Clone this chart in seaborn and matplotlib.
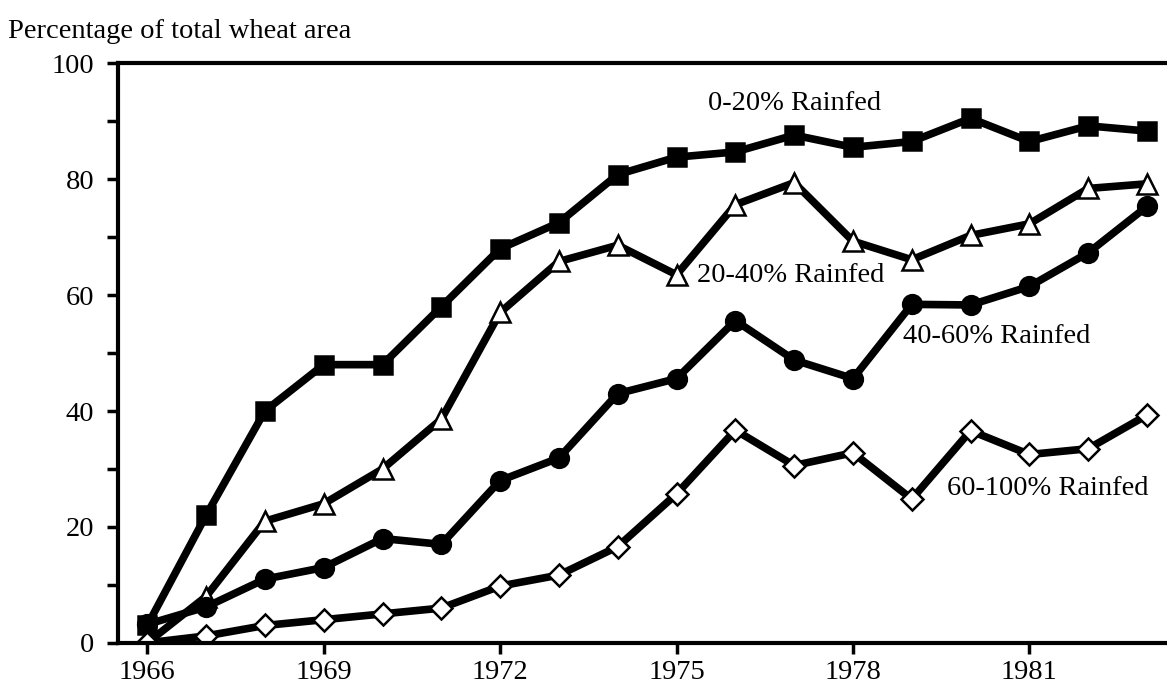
import matplotlib
matplotlib.use("Agg")
import matplotlib.pyplot as plt
from matplotlib.ticker import MultipleLocator
import seaborn as sns
import pandas as pd

years = list(range(1966, 1984))
rain_0_20 = [3, 22, 40, 48, 48, 58, 68, 72.5, 80.8, 83.8, 84.7, 87.6, 85.5, 86.5, 90.5, 86.5, 89.2, 88.3]
rain_20_40 = [0, 8, 21, 24, 30, 38.6, 57, 65.8, 68.6, 63.5, 75.6, 79.4, 69.3, 66.1, 70.3, 72.3, 78.4, 79.2]
rain_40_60 = [3.2, 6.2, 11, 13, 18, 17, 28, 31.9, 43, 45.6, 55.6, 48.8, 45.6, 58.4, 58.3, 61.5, 67.3, 75.3]
rain_60_100 = [0, 1.2, 3, 4, 5, 6, 9.8, 11.7, 16.6, 25.7, 36.7, 30.6, 32.8, 24.8, 36.6, 32.5, 33.5, 39.3]

series_names = ["0-20% Rainfed", "20-40% Rainfed", "40-60% Rainfed", "60-100% Rainfed"]
series_values = [rain_0_20, rain_20_40, rain_40_60, rain_60_100]

df = pd.concat([pd.DataFrame({"year": years, "pct": v, "group": n})
                for n, v in zip(series_names, series_values)])

sns.set_style("ticks")
plt.rcParams["font.family"] = ["Liberation Serif", "DejaVu Serif"]
plt.rcParams["text.color"] = "black"
plt.rcParams["xtick.color"] = "black"
plt.rcParams["ytick.color"] = "black"
plt.rcParams["axes.edgecolor"] = "black"

fig = plt.figure(figsize=(11.67, 6.95), dpi=100)
ax = fig.add_axes([0.101, 0.075, 0.897, 0.834])

# marker, face colour, size for each group
styles = {
    "0-20% Rainfed": ("s", "black", 13.5),
    "20-40% Rainfed": ("^", "white", 15),
    "40-60% Rainfed": ("o", "black", 13.5),
    "60-100% Rainfed": ("D", "white", 11.5),
}
for name in series_names:
    m, fc, ms = styles[name]
    sns.lineplot(data=df[df["group"] == name], x="year", y="pct", ax=ax,
                 color="black", linewidth=5.5, marker=m, markersize=ms,
                 markerfacecolor=fc, markeredgecolor="black", markeredgewidth=1.8,
                 legend=False)

ax.set_xlim(1965.5, 1983.3)
ax.set_ylim(0, 100)
ax.set_xticks(range(1966, 1984, 3))
ax.yaxis.set_major_locator(MultipleLocator(20))
ax.yaxis.set_minor_locator(MultipleLocator(10))
ax.tick_params(axis="both", which="major", labelsize=20.5, width=2.5, length=8, direction="out")
ax.tick_params(axis="y", which="minor", width=2.5, length=8, direction="out")
ax.tick_params(axis="x", pad=4)
ax.tick_params(axis="y", pad=9)
ax.set_xlabel("")
ax.set_ylabel("")

for side in ["left", "bottom", "top"]:
    ax.spines[side].set_linewidth(3)
ax.spines["right"].set_visible(False)

ax.text(1977.0, 93.0, "0-20% Rainfed", fontsize=20.5, ha="center", va="center")
ax.text(1975.35, 63.4, "20-40% Rainfed", fontsize=20.5, ha="left", va="center")
ax.text(1978.85, 52.9, "40-60% Rainfed", fontsize=20.5, ha="left", va="center")
ax.text(1979.6, 26.7, "60-100% Rainfed", fontsize=20.5, ha="left", va="center")

fig.text(0.007, 0.955, "Percentage of total wheat area", fontsize=20.5, ha="left", va="center")

fig.savefig("out.png", dpi=100)
